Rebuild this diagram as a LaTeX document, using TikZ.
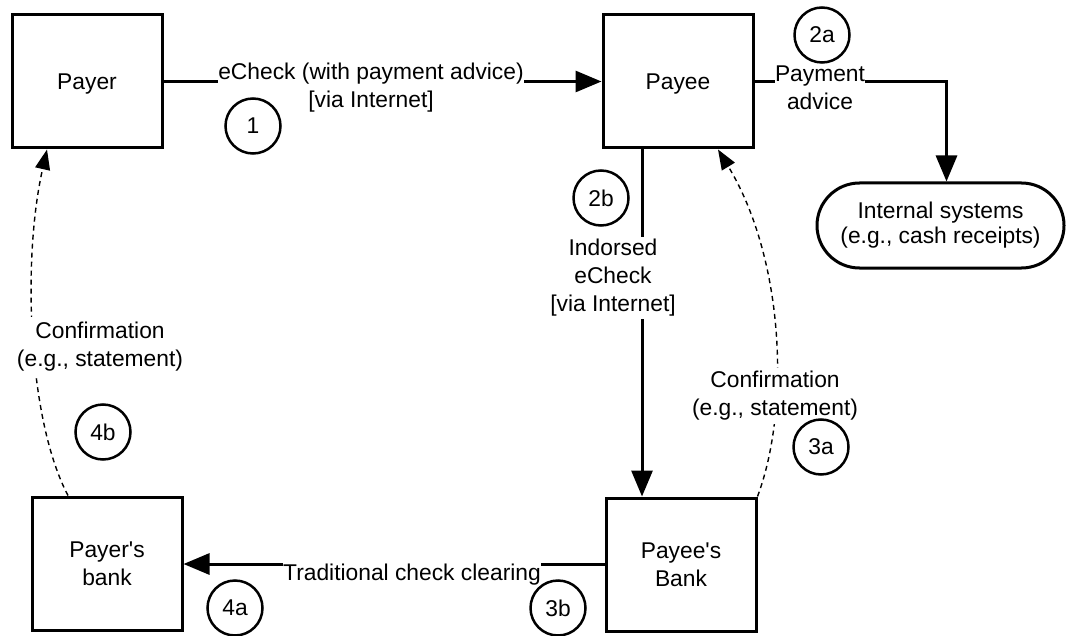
\documentclass[tikz,border=0pt]{standalone}
\usepackage{fontspec}
\setmainfont{Liberation Sans}
\usetikzlibrary{arrows.meta,shapes.misc}
\begin{document}
\begin{tikzpicture}[x=1pt,y=-1pt,
  font=\fontsize{22.8}{28}\selectfont,
  box/.style={draw,line width=3pt,minimum width=150pt,minimum height=133pt,align=center,inner sep=0pt},
  term/.style={draw,line width=3pt,rounded rectangle,minimum width=247pt,minimum height=85pt,align=center,inner sep=0pt},
  num/.style={draw,circle,line width=2.5pt,minimum size=55pt,inner sep=0pt},
  flow/.style={line width=3pt,-{Triangle[length=26pt,width=21pt]}},
  confirm/.style={line width=1.4pt,dash pattern=on 5pt off 4pt,-{Triangle[length=20pt,width=15pt]}},
  lbl/.style={fill=white,inner sep=0pt,align=center},
]
\useasboundingbox (0,0) rectangle (1067,636);

% boxes
\node[box,text depth=0pt] (payer) at (87,81.5) {Payer};
\node[box,text depth=0pt] (payee) at (678,81.5) {Payee};
\node[box] (payerbank) at (107,563.5) {Payer\textquotesingle s\\bank};
\node[box] (payeebank) at (681,564.5) {Payee\textquotesingle s\\Bank};
\node[term,font=\fontsize{22.8}{25}\selectfont] (internal) at (940.5,225.5) {Internal systems\\(e.g., cash receipts)};

% connectors
\draw[flow] (payer.east) -- (payee.west);
\draw[flow] (payee.east) -| ([xshift=6pt]internal.north);
\draw[flow] ([xshift=-36pt]payee.south) -- ([xshift=-36pt]payee.south |- payeebank.north);
\draw[flow] (payeebank.west |- 0,564) -- (payerbank.east |- 0,564);
\draw[confirm] (payeebank.north east) .. controls (790,410) and (785,260) .. ([xshift=40pt]payee.south);
\draw[confirm] ([xshift=-39pt]payerbank.north) .. controls (28,420) and (22,260) .. ([xshift=-40pt]payer.south);

% labels
\node[lbl] (l1) at (371,88) {eCheck (with payment advice)\\{}[via Internet]};
\node[lbl] (l2a) at (820,88) {Payment\\advice};
\node[lbl,inner ysep=2pt] (l2b) at (613,278) {Indorsed\\eCheck\\{}[via Internet]};
\node[lbl,inner ysep=1pt] (l3b) at (412,575) {Traditional check clearing};
\node[lbl,inner ysep=3pt] (l3a) at (775,396) {Confirmation\\(e.g., statement)};
\node[lbl,inner ysep=5pt] (l4b) at (100,347) {Confirmation\\(e.g., statement)};

% step numbers
\node[num] (n1) at (253,126) {1};
\node[num] (n2a) at (822,35) {2a};
\node[num] (n2b) at (601,198) {2b};
\node[num] (n3a) at (821,447) {3a};
\node[num] (n3b) at (558,608) {3b};
\node[num] (n4a) at (235,608) {4a};
\node[num] (n4b) at (103,432) {4b};
\end{tikzpicture}
\end{document}
